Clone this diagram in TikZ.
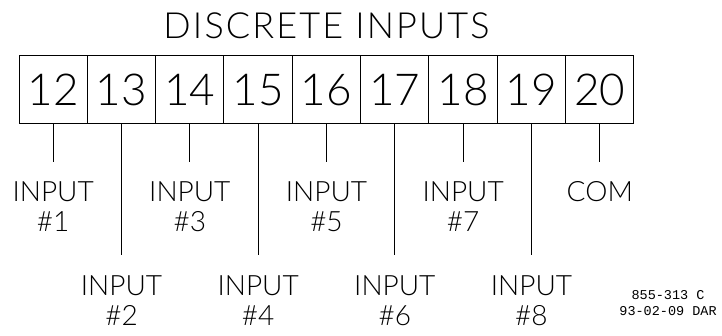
\documentclass[tikz,border=0pt]{standalone}
\usepackage{fontspec}
\setmainfont{Lato}[UprightFont=* Light]
\newfontfamily\notefont{Liberation Mono}
\usetikzlibrary{positioning}

\begin{document}
\begin{tikzpicture}[x=1pt, y=1pt, node distance=68.33pt,
    term/.style={draw, line width=1pt, minimum width=68.33pt, minimum height=68pt,
        inner sep=0pt, outer sep=0pt, font=\fontsize{44}{44}\selectfont},
    lbl/.style={align=center, inner sep=0pt, font=\fontsize{28}{30}\selectfont},
    wire/.style={line width=1pt, shorten >=20pt}]
  \useasboundingbox (0,0) rectangle (722,-336);

  % terminal strip
  \node [term] (t12) at (53.17,-90) {12};
  \node [term, right of=t12] (t13) {13};
  \node [term, right of=t13] (t14) {14};
  \node [term, right of=t14] (t15) {15};
  \node [term, right of=t15] (t16) {16};
  \node [term, right of=t16] (t17) {17};
  \node [term, right of=t17] (t18) {18};
  \node [term, right of=t18] (t19) {19};
  \node [term, right of=t19] (t20) {20};

  \node [above of=t16, node distance=64pt,
    font=\fontsize{36}{36}\selectfont\addfontfeature{LetterSpace=6}] (title) {DISCRETE INPUTS};

  % upper row of labels
  \node [lbl, below of=t12, node distance=117pt] (in1) {INPUT\\\#1};
  \draw [wire] (t12.south) to (in1.north);

  \node [lbl, below of=t14, node distance=117pt] (in3) {INPUT\\\#3};
  \draw [wire] (t14.south) to (in3.north);

  \node [lbl, below of=t16, node distance=117pt] (in5) {INPUT\\\#5};
  \draw [wire] (t16.south) to (in5.north);

  \node [lbl, below of=t18, node distance=117pt] (in7) {INPUT\\\#7};
  \draw [wire] (t18.south) to (in7.north);

  \node [lbl, below of=t20, node distance=102pt] (com) {COM};
  \draw [wire] (t20.south) to (com.north);

  % lower row of labels
  \node [lbl, below of=t13, node distance=210.5pt] (in2) {INPUT\\\#2};
  \draw [wire] (t13.south) to (in2.north);

  \node [lbl, below of=t15, node distance=210.5pt] (in4) {INPUT\\\#4};
  \draw [wire] (t15.south) to (in4.north);

  \node [lbl, below of=t17, node distance=210.5pt] (in6) {INPUT\\\#6};
  \draw [wire] (t17.south) to (in6.north);

  \node [lbl, below of=t19, node distance=210.5pt] (in8) {INPUT\\\#8};
  \draw [wire] (t19.south) to (in8.north);

  \node [align=center, inner sep=0pt, font=\notefont\fontsize{13.5}{16}\selectfont] (dwg) at (668,-303) {855-313 C\\93-02-09 DAR};
\end{tikzpicture}
\end{document}
